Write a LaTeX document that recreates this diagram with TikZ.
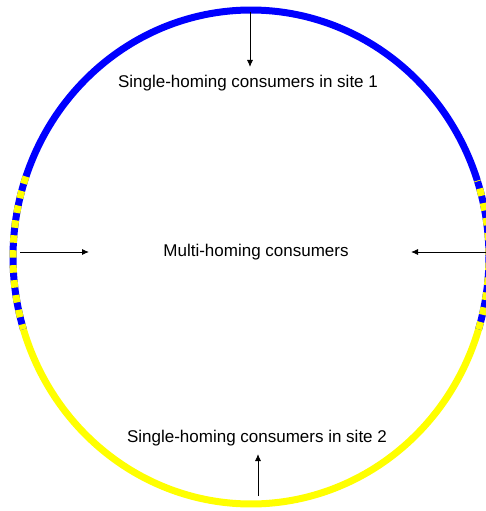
\documentclass[tikz,border=0pt]{standalone}
\usepackage{fontspec}
\setmainfont{Liberation Sans}
\usetikzlibrary{arrows.meta}
\definecolor{ringblue}{RGB}{0,0,255}
\definecolor{ringyellow}{RGB}{255,255,0}
\begin{document}
\begin{tikzpicture}[x=1pt,y=-1pt,
  lbl/.style={font=\fontsize{17}{20}\selectfont, inner sep=0pt, text=black},
  arr/.style={-{Latex[length=7pt,width=6pt]}, line width=0.9pt, black},
  ring/.style={line width=7pt, line cap=butt}]
\useasboundingbox (0,0) rectangle (486,511);
% ring segments (parametric ellipse, image coordinates)
\draw[ring, ringblue] plot[domain=18:161, samples=120, smooth] ({251+238*cos(\x)}, {257-247*sin(\x)});
\draw[ring, ringyellow] plot[domain=197:343, samples=120, smooth] ({251+238*cos(\x)}, {257-247*sin(\x)});
% mixed segments: blue base with yellow dashes
\draw[ring, ringblue] plot[domain=161:197, samples=40, smooth] ({251+238*cos(\x)}, {257-247*sin(\x)});
\draw[ring, ringyellow, dash pattern=on 7.5pt off 7.5pt] plot[domain=161:197, samples=40, smooth] ({251+238*cos(\x)}, {257-247*sin(\x)});
\draw[ring, ringblue] plot[domain=-17:18, samples=40, smooth] ({251+238*cos(\x)}, {257-247*sin(\x)});
\draw[ring, ringyellow, dash pattern=on 7.5pt off 7.5pt] plot[domain=-17:18, samples=40, smooth] ({251+238*cos(\x)}, {257-247*sin(\x)});
% labels
\node[lbl] (t1) at (248,83) {Single-homing consumers in site 1};
\node[lbl] (tm) at (256,252) {Multi-homing consumers};
\node[lbl] (t2) at (257,438) {Single-homing consumers in site 2};
% arrow anchors
\coordinate (topc) at (250,12);
\coordinate (topend) at (250,67);
\coordinate (botc) at (258,496);
\coordinate (botend) at (258,454);
\coordinate (lstart) at (20,252);
\coordinate (lend) at (89,252);
\coordinate (rstart) at (486,252);
\coordinate (rend) at (411,252);
\draw[arr] (topc) -- (topend);
\draw[arr] (botc) -- (botend);
\draw[arr] (lstart) -- (lend);
\draw[arr] (rstart) -- (rend);
\end{tikzpicture}
\end{document}
